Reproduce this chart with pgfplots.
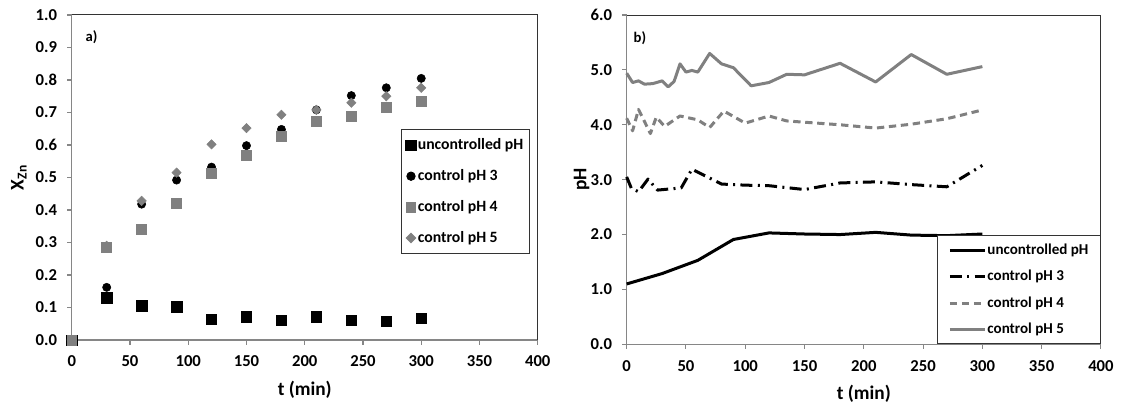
\documentclass[border=0pt]{standalone}
\usepackage{fontspec}
\setmainfont{Carlito}
\usepackage{pgfplots}
\pgfplotsset{compat=1.18}
\definecolor{sgray}{HTML}{808080}
\definecolor{axgray}{HTML}{868686}

\pgfplotsset{
  excel/.style={
    scale only axis,
    axis x line*=bottom, axis y line*=left,
    axis line style={axgray, line width=1.1pt},
    tick style={axgray, line width=0.8pt},
    tick align=outside, major tick length=3.5pt,
    xmin=0, xmax=400, xtick={0,50,...,400},
    ticklabel style={font=\fontsize{12.5}{14}\selectfont\bfseries},
    /pgf/number format/assume math mode=true,
    xticklabel style={yshift=-5pt},
    yticklabel style={xshift=-4pt,
        /pgf/number format/.cd,fixed,fixed zerofill,precision=1},
    xlabel={t (min)},
    label style={font=\fontsize{14.5}{16}\selectfont\bfseries},
    xlabel style={yshift=-3.5pt},
    clip=false,
    legend cell align=left,
  },
}

\begin{document}
\begin{tikzpicture}
\useasboundingbox (0,0) rectangle (840.75pt,302.25pt);

% a) conversion
\begin{axis}[excel,
    at={(53.8pt,47.25pt)}, anchor=south west,
    width=349.5pt, height=243.75pt,
    ymin=0, ymax=1,
    ytick={0,0.1,0.2,0.3,0.4,0.5,0.6,0.7,0.8,0.9,1.0},
    ylabel={X\textsubscript{Zn}},
    legend style={at={(rel axis cs:0.9835,0.6486)}, anchor=north east,
        draw=black!80, line width=0.75pt,
        font=\fontsize{11.8}{13}\selectfont\bfseries,
        row sep=11.4pt, inner xsep=3.5pt, inner ysep=5.8pt,
        nodes={inner xsep=1.2pt, inner ysep=1pt}},
    legend image code/.code={\draw[#1] plot coordinates {(0pt,0pt)};},
]
\addplot[only marks, mark=square*, mark size=3.9pt, black] coordinates {
  (0,0) (30,0.130) (60,0.105) (90,0.102) (120,0.063) (150,0.072)
  (180,0.060) (210,0.072) (240,0.060) (270,0.057) (300,0.066)};
\addplot[only marks, mark=*, mark size=3.1pt, black] coordinates {
  (0,0) (30,0.162) (60,0.418) (90,0.492) (120,0.532) (150,0.598)
  (180,0.648) (210,0.708) (240,0.752) (270,0.776) (300,0.805)};
\addplot[only marks, mark=square*, mark size=3.7pt, sgray] coordinates {
  (0,0) (30,0.285) (60,0.340) (90,0.420) (120,0.512) (150,0.568)
  (180,0.626) (210,0.672) (240,0.688) (270,0.716) (300,0.734)};
\addplot[only marks, mark=diamond*, mark size=3.5pt, sgray,
    mark options={xscale=1.33}] coordinates {
  (0,0) (30,0.290) (60,0.428) (90,0.515) (120,0.602) (150,0.652)
  (180,0.693) (210,0.708) (240,0.730) (270,0.750) (300,0.776)};
\legend{uncontrolled pH, control pH 3, control pH 4, control pH 5}
\draw[black!80, line width=0.75pt] (rel axis cs:0,1) -- (rel axis cs:1,1) -- (rel axis cs:1,0);
\node[font=\fontsize{11}{12}\selectfont\bfseries] at (rel axis cs:0.0425,0.931) {a)};
\end{axis}

% b) pH
\begin{axis}[excel,
    at={(470pt,44pt)}, anchor=south west,
    width=355.7pt, height=247pt,
    ymin=0, ymax=6,
    ytick={0,1,2,3,4,5,6},
    ylabel={pH},
    ylabel style={yshift=-6pt},
    legend style={at={(rel axis cs:1,0)}, anchor=south east,
        draw=black!80, line width=0.75pt, fill=white,
        font=\fontsize{11.3}{12}\selectfont\bfseries,
        row sep=8.4pt, inner xsep=8pt, inner ysep=5pt,
        nodes={inner xsep=1pt, inner ysep=1pt}},
    legend image code/.code={\draw[#1] (0pt,0pt) -- (26pt,0pt);},
]
\addplot[black, line width=2.25pt, line join=round] coordinates {
  (0,1.10) (30,1.29) (60,1.53) (90,1.91) (120,2.03) (150,2.01)
  (180,2.00) (210,2.04) (240,1.99) (270,1.98) (300,2.01)};
\addplot[black, line width=2.25pt, line join=round,
    dash pattern=on 9pt off 4pt on 1.5pt off 4pt] coordinates {
  (0,3.05) (4,2.84) (10,2.78) (18,3.01) (26,2.81) (46,2.85) (55,3.19)
  (80,2.92) (100,2.90) (120,2.89) (150,2.82) (180,2.94) (210,2.96)
  (240,2.91) (270,2.87) (300,3.26)};
\addplot[sgray, line width=2.25pt, line join=round,
    dash pattern=on 5.5pt off 3.5pt] coordinates {
  (0,4.12) (5,3.89) (10,4.28) (20,3.84) (25,4.14) (32,3.97) (45,4.16)
  (60,4.09) (70,3.95) (82,4.25) (100,4.03) (120,4.16) (135,4.07)
  (180,4.00) (210,3.94) (240,4.01) (270,4.11) (300,4.27)};
\addplot[sgray, line width=2.25pt, line join=round] coordinates {
  (0,4.94) (5,4.77) (10,4.80) (15,4.74) (22,4.75) (30,4.80) (35,4.69)
  (40,4.79) (45,5.11) (50,4.96) (55,4.99) (60,4.96) (70,5.30) (80,5.11)
  (90,5.04) (105,4.71) (120,4.77) (135,4.92) (150,4.91) (180,5.12)
  (210,4.78) (240,5.28) (270,4.92) (300,5.06)};
\legend{uncontrolled pH, control pH 3, control pH 4, control pH 5}
\draw[black!80, line width=0.75pt] (rel axis cs:0,1) -- (rel axis cs:1,1) -- (rel axis cs:1,0);
\node[font=\fontsize{11}{12}\selectfont\bfseries] at (rel axis cs:0.028,0.930) {b)};
\end{axis}
\end{tikzpicture}
\end{document}
